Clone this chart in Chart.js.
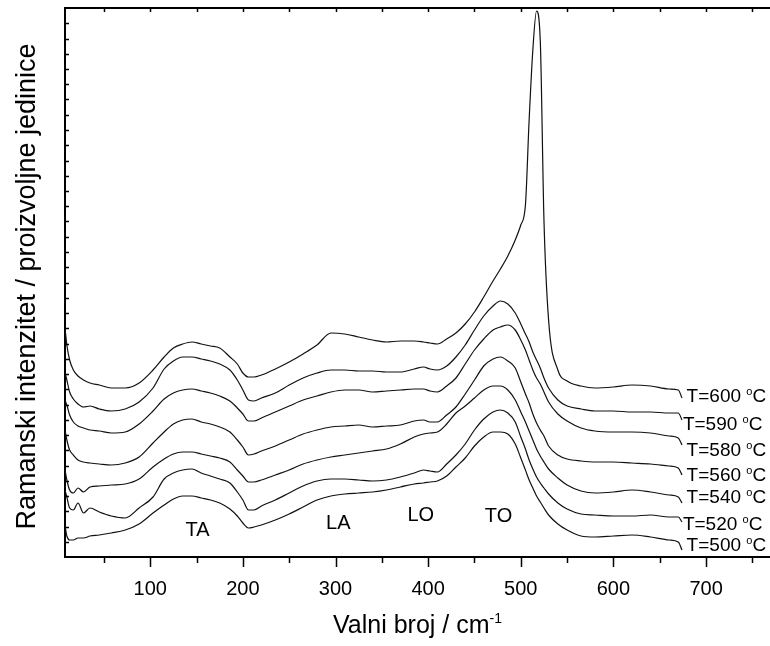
<!DOCTYPE html>
<html lang="en">
<head>
<meta charset="UTF-8">
<title>Ramanski spektri</title>
<script src="https://cdn.jsdelivr.net/npm/chart.js@4"></script>
<style>
  body { margin: 0; background: #fff; }
  canvas { display: block; }
</style>
</head>
<body>
<canvas id="raman" width="770" height="646"></canvas>
<script>
// wavenumbers (cm-1), shared by all spectra
const wavenumbers = [8,10,13,17,22,28,35,45,58,73, 88,103,115,125,135,145,155,165,175,186,
  194,200,206,212,220,235,250,265,280,295, 310,325,340,355,370,385,395,402,410,420,
  430,440,450,460,470,478,486,494,500,505, 509,513,517,521,525,530,540,550,565,580,
  600,620,640,660,670,674];

// intensities in arbitrary units, spectra already stacked with an offset
const t600 = [229,212,197,187,181,177,174,172,169,169, 174,187,200,209,213,215,213,211,209,200,
  193,184,180,180,182,188,195,203,212,224, 223,220,217,215,216,216,215,214,213,218,
  224,233,245,260,276,288,301,317,332,352, 437,507,546,517,337,237,187,176,171,169,
  170,172,171,168,167,159];
const t590 = [185,177,165,158,153,150,151,148,146,148, 155,169,188,196,200,200,198,196,193,187,
  177,167,157,156,159,164,172,179,184,187, 187,186,186,185,185,188,190,188,187,191,
  200,212,227,241,251,256,253,244,233,223, 215,205,197,189,179,169,157,151,148,146,
  146,145,145,144,144,137];
const t580 = [157,152,142,135,131,129,127,126,124,125, 133,146,158,164,167,168,166,164,161,156,
  149,143,136,136,139,145,151,157,161,165, 167,167,165,166,167,168,168,166,165,171,
  179,193,207,218,227,230,232,227,217,207, 197,187,179,173,165,155,143,136,129,126,
  125,125,124,121,119,112];
const t560 = [127,117,107,102,97,95,94,93,92,94, 100,114,125,133,137,138,135,133,130,125,
  117,110,102,103,106,111,117,123,127,130, 131,132,130,131,132,136,137,135,135,142,
  150,163,177,191,198,200,196,189,175,163, 154,143,134,127,121,111,102,98,96,95,
  95,94,93,91,89,82];
const t540 = [87,77,67,64,69,65,70,71,72,73, 78,90,98,103,105,105,103,101,99,95,
  87,81,75,75,77,82,87,93,97,100, 102,104,106,108,113,120,123,124,125,133,
  144,151,159,167,171,171,167,157,145,135, 126,117,108,101,95,88,79,72,66,64,
  65,67,65,62,60,54];
const t520 = [67,60,49,47,54,44,49,45,41,39, 49,60,78,84,87,88,84,81,78,74,
  65,57,47,47,51,57,64,71,76,78, 78,77,76,77,80,84,87,86,85,93,
  102,113,127,138,145,147,144,135,120,108, 97,88,80,74,69,63,54,48,43,42,
  41,41,42,40,40,35];
const t500 = [32,21,17,17,19,19,21,22,24,27, 33,44,52,58,61,61,59,57,54,48,
  41,34,29,30,32,37,43,50,57,61, 63,64,65,67,70,73,74,75,76,81,
  90,99,111,120,125,125,123,113,99,87, 77,69,61,55,49,42,33,27,21,20,
  21,22,20,17,15,7];

const temperatures = [600, 590, 580, 560, 540, 520, 500];
const spectra = [t600, t590, t580, t560, t540, t520, t500];
const xTicks = [100, 200, 300, 400, 500, 600, 700];
const bands = ['TA', 'LA', 'LO', 'TO'];

// where the text goes, in data units
const bandAt = [[151, 27], [303, 34], [392, 42], [476, 41]];
const tempAt = [[679, 162], [675, 134], [679, 108], [679, 83], [679, 61], [675, 34], [679, 13]];

const FONT = 'Arial, "Liberation Sans", sans-serif';
const Y_MAX = 549;
const Y_STEP = Y_MAX / 36;

function supText(ctx, parts, x, y) {
  // parts: [text, size, raise]
  let cx = x;
  for (const [t, size, raise] of parts) {
    ctx.font = size + 'px ' + FONT;
    ctx.fillText(t, cx, y - raise);
    cx += ctx.measureText(t).width;
  }
}
function supWidth(ctx, parts) {
  let w = 0;
  for (const [t, size] of parts) {
    ctx.font = size + 'px ' + FONT;
    w += ctx.measureText(t).width;
  }
  return w;
}

const decor = {
  id: 'decor',
  afterDraw(chart) {
    const { ctx, chartArea: a, scales: { x, y } } = chart;
    ctx.save();
    ctx.strokeStyle = '#000';
    ctx.fillStyle = '#000';

    // top frame line, the right side stays open
    ctx.lineWidth = 2;
    ctx.beginPath();
    ctx.moveTo(a.left - 1, a.top);
    ctx.lineTo(a.right, a.top);
    ctx.stroke();

    ctx.lineWidth = 1.5;
    ctx.beginPath();
    for (let v = 50; v < x.max; v += 50) {
      const px = Math.round(x.getPixelForValue(v)) + 0.5;
      const len = v % 100 === 0 ? 10 : 6;
      ctx.moveTo(px, a.bottom);
      ctx.lineTo(px, a.bottom + len);
      ctx.moveTo(px, a.top);
      ctx.lineTo(px, a.top + 4);
    }
    for (let v = Y_STEP; v < Y_MAX - 1; v += Y_STEP) {
      const py = Math.round(y.getPixelForValue(v)) + 0.5;
      ctx.moveTo(a.left, py);
      ctx.lineTo(a.left + 4, py);
    }
    ctx.stroke();

    // band names
    ctx.textAlign = 'center';
    ctx.textBaseline = 'middle';
    ctx.font = '20px ' + FONT;
    bands.forEach((b, i) => {
      ctx.fillText(b, x.getPixelForValue(bandAt[i][0]), y.getPixelForValue(bandAt[i][1]));
    });

    // temperature labels
    ctx.textAlign = 'left';
    ctx.textBaseline = 'alphabetic';
    temperatures.forEach((t, i) => {
      const px = x.getPixelForValue(tempAt[i][0]);
      const py = y.getPixelForValue(tempAt[i][1]) + 7;
      supText(ctx, [['T=' + t + ' ', 19, 0], ['o', 11, 7], ['C', 19, 0]], px, py);
    });

    // x title with superscript
    const xt = [['Valni broj / cm', 25, 0], ['-1', 14, 10]];
    const w = supWidth(ctx, xt);
    supText(ctx, xt, (a.left + a.right) / 2 - w / 2, 633);

    // y title
    ctx.translate(28, (a.top + a.bottom) / 2 + 4);
    ctx.rotate(-Math.PI / 2);
    ctx.textAlign = 'center';
    ctx.textBaseline = 'middle';
    ctx.font = '27px ' + FONT;
    ctx.fillText('Ramanski intenzitet / proizvoljne jedinice', 0, 0);
    ctx.restore();
  }
};

new Chart(document.getElementById('raman'), {
  type: 'line',
  data: {
    datasets: spectra.map((s, i) => ({
      label: 'T=' + temperatures[i] + ' °C',
      data: wavenumbers.map((w, j) => ({ x: w, y: s[j] })),
      borderColor: '#111',
      borderWidth: 1.2,
      pointRadius: 0,
      cubicInterpolationMode: 'monotone'
    }))
  },
  options: {
    responsive: false,
    animation: false,
    layout: { padding: { top: 8, right: 0, bottom: 0, left: 0 } },
    plugins: { legend: { display: false }, tooltip: { enabled: false } },
    scales: {
      x: {
        type: 'linear',
        min: 8,
        max: 769,
        afterBuildTicks: s => { s.ticks = xTicks.map(v => ({ value: v })); },
        afterFit: s => { s.height = 89; },
        grid: { display: false, drawTicks: false },
        border: { display: true, color: '#000', width: 2 },
        ticks: { color: '#000', padding: 20, maxRotation: 0, font: { family: FONT, size: 20 } }
      },
      y: {
        min: 0,
        max: Y_MAX,
        afterFit: s => { s.width = 65; },
        grid: { display: false, drawTicks: false },
        border: { display: true, color: '#000', width: 2 },
        ticks: { display: false }
      }
    }
  },
  plugins: [decor]
});
</script>
</body>
</html>
